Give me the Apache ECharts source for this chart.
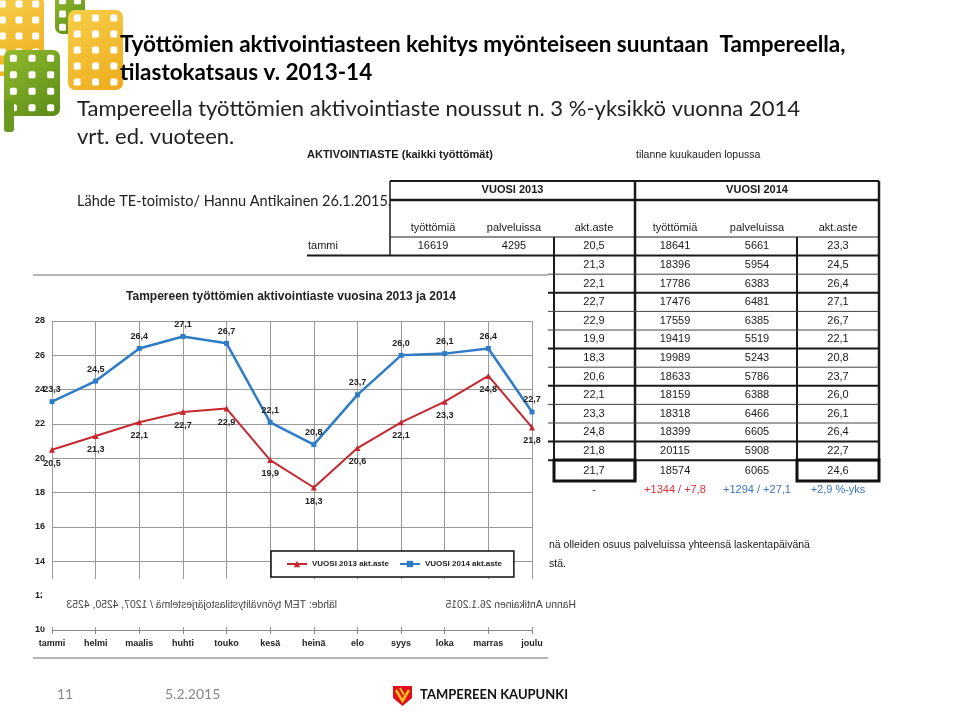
<!DOCTYPE html>
<html>
<head>
<meta charset="utf-8">
<script src="https://cdn.jsdelivr.net/npm/echarts@6/dist/echarts.min.js"></script>
<style>html,body{margin:0;padding:0;background:#fff}#c{width:960px;height:712px}</style>
</head>
<body>
<div id="c"></div>
<script>
// ---------- data ----------
const months = ['tammi','helmi','maalis','huhti','touko','kesä','heinä','elo','syys','loka','marras','joulu'];
const rate2013 = [20.5, 21.3, 22.1, 22.7, 22.9, 19.9, 18.3, 20.6, 22.1, 23.3, 24.8, 21.8];
const rate2014 = [23.3, 24.5, 26.4, 27.1, 26.7, 22.1, 20.8, 23.7, 26.0, 26.1, 26.4, 22.7];
const jobless2014 = [18641, 18396, 17786, 17476, 17559, 19419, 19989, 18633, 18159, 18318, 18399, 20115];
const services2014 = [5661, 5954, 6383, 6481, 6385, 5519, 5243, 5786, 6388, 6466, 6605, 5908];
const janJobless2013 = 16619;
const janServices2013 = 4295;
const avgRate2013 = 21.7;
const avgRow2014 = [18574, 6065, 24.6];
const diffRow = ['-', '+1344 / +7,8', '+1294 / +27,1', '+2,9 %-yks'];
const yearHeads = ['VUOSI 2013', 'VUOSI 2014'];
const colHeads = ['työttömiä', 'palveluissa', 'akt.aste'];
const seriesNames = ['VUOSI 2013 akt.aste', 'VUOSI 2014 akt.aste'];
const yTicks = {min: 10, max: 28, interval: 2};

const titleLine1 = 'Työttömien aktivointiasteen kehitys myönteiseen suuntaan  Tampereella,';
const titleLine2 = 'tilastokatsaus v. 2013-14';
const subLine1 = 'Tampereella työttömien aktivointiaste noussut n. 3 %-yksikkö vuonna 2014';
const subLine2 = 'vrt. ed. vuoteen.';
const sourceLine = 'Lähde TE-toimisto/ Hannu Antikainen 26.1.2015.';
const tableTitle = 'AKTIVOINTIASTE (kaikki työttömät)';
const tableNote = 'tilanne kuukauden lopussa';
const footA = 'nä olleiden osuus palveluissa yhteensä laskentapäivänä';
const footB = 'stä.';
const mirrorA = 'lähde: TEM työnvälitystilastojärjestelmä / 1207, 4250, 4253';
const mirrorB = 'Hannu Antikainen 26.1.2015';
const chartTitle = 'Tampereen työttömien aktivointiaste vuosina 2013 ja 2014';
const pageNo = '11';
const dateText = '5.2.2015';
const cityText = 'TAMPEREEN KAUPUNKI';

// ---------- styling helpers ----------
const SANS = 'Lato, "Open Sans", sans-serif';
const NARROW = '"Liberation Sans Narrow", "Arial Narrow", "Liberation Sans", sans-serif';
const fmt = v => v.toFixed(1).replace('.', ',');

const G = [];
function txt(text, x, y, o) {
  o = o || {};
  G.push({
    type: 'text', x: x, y: y, z: o.z != null ? o.z : 1, scaleX: o.scaleX || 1,
    style: {
      text: text, fontSize: o.size || 11, fontWeight: o.weight || 'normal',
      fontFamily: o.family || NARROW, fill: o.color || '#1a1a1a',
      align: o.align || 'left', verticalAlign: 'middle'
    }
  });
}
function line(x1, y1, x2, y2, w, color, z) {
  G.push({type: 'line', z: z != null ? z : 1, shape: {x1: x1, y1: y1, x2: x2, y2: y2},
    style: {stroke: color || '#1a1a1a', lineWidth: w || 1}});
}
function rect(x, y, w, h, o) {
  o = o || {};
  G.push({type: 'rect', z: o.z != null ? o.z : 1, shape: {x: x, y: y, width: w, height: h, r: o.r || 0},
    style: {fill: o.fill || 'none', stroke: o.stroke || null, lineWidth: o.lw || 1}});
}

// ---------- slide texts ----------
txt(titleLine1, 120, 45, {size: 22.5, weight: 'bold', family: SANS, color: '#000', z: 5});
txt(titleLine2, 120, 73, {size: 22.5, weight: 'bold', family: SANS, color: '#000', z: 5});
txt(subLine1, 77, 109, {size: 22, family: SANS, color: '#222', z: 5});
txt(subLine2, 77, 137, {size: 22, family: SANS, color: '#222', z: 5});
txt(sourceLine, 77, 201, {size: 14.5, family: SANS, color: '#222', z: 5});
txt(pageNo, 57, 694, {size: 14, family: SANS, color: '#888', z: 5});
txt(dateText, 165, 694, {size: 14, family: SANS, color: '#888', z: 5});
txt(cityText, 420, 695, {size: 13, weight: 'bold', family: SANS, color: '#111', z: 5});

// ---------- table (behind chart panel) ----------
const tblL = 390, tblM = 635, tblR = 879, lblX = 307;
const colX = [433, 514, 594, 675, 757, 838];
const rowTop0 = 237, rowH = 18.6;
const rowC = i => rowTop0 + rowH * i + rowH / 2;

txt(tableTitle, 307, 155, {size: 11, weight: 'bold'});
txt(tableNote, 636, 155, {size: 10.5});
line(tblL, 181, tblR, 181, 2);
line(tblL, 200, tblR, 200, 2.5);
line(tblL, 181, tblL, rowTop0 + rowH, 1.5);
line(tblM, 181, tblM, 481, 2.5);
line(tblR, 181, tblR, 460, 2.5);
txt(yearHeads[0], (tblL + tblM) / 2, 190, {size: 11, weight: 'bold', align: 'center'});
txt(yearHeads[1], (tblM + tblR) / 2, 190, {size: 11, weight: 'bold', align: 'center'});
colHeads.concat(colHeads).forEach((h, k) => txt(h, colX[k], 228, {size: 11, align: 'center'}));
line(tblL, rowTop0, tblR, rowTop0, 1);
line(554, rowTop0, 554, 460, 2);
line(797, rowTop0, 797, 460, 2);
const thickRows = [1, 3, 6, 8, 11, 12];
for (let i = 1; i <= 12; i++) {
  const y = rowTop0 + rowH * i;
  if (thickRows.indexOf(i) >= 0) line(lblX, y, tblR, y, 2);
  else line(tblL, y, tblR, y, 1, '#444');
}
txt(months[0], 308, rowC(0), {size: 11});
txt(String(janJobless2013), colX[0], rowC(0), {size: 11, align: 'center'});
txt(String(janServices2013), colX[1], rowC(0), {size: 11, align: 'center'});
months.forEach((m, i) => {
  txt(fmt(rate2013[i]), colX[2], rowC(i), {size: 11, align: 'center'});
  txt(String(jobless2014[i]), colX[3], rowC(i), {size: 11, align: 'center'});
  txt(String(services2014[i]), colX[4], rowC(i), {size: 11, align: 'center'});
  txt(fmt(rate2014[i]), colX[5], rowC(i), {size: 11, align: 'center'});
});
const avgY = 470.5;
rect(554, 460, 81, 21, {stroke: '#111', lw: 3});
rect(797, 460, 82, 21, {stroke: '#111', lw: 3});
txt(fmt(avgRate2013), colX[2], avgY, {size: 11, align: 'center'});
txt(String(avgRow2014[0]), colX[3], avgY, {size: 11, align: 'center'});
txt(String(avgRow2014[1]), colX[4], avgY, {size: 11, align: 'center'});
txt(fmt(avgRow2014[2]), colX[5], avgY, {size: 11, align: 'center'});
const diffColors = ['#333', '#e0303a', '#3b73c4', '#3b73c4'];
diffRow.forEach((d, k) => txt(d, colX[k + 2], 490, {size: 11, align: 'center', color: diffColors[k]}));
txt(footA, 549, 545, {size: 10.5});
txt(footB, 549, 564, {size: 10.5});

// ---------- chart panel ----------
rect(33, 258, 515, 404, {fill: '#fff', z: 2});
line(33, 275, 548, 275, 2, '#b5b5b5', 2);
line(33, 658, 548, 658, 2, '#b5b5b5', 2);
txt(chartTitle, 291, 297, {size: 12, weight: 'bold', align: 'center', z: 3, color: '#222'});
// white band with mirrored source texts over the chart
rect(42, 579, 506, 48, {fill: '#fff', z: 20});
txt(mirrorA, 337, 605, {size: 11.5, color: '#444', z: 21, scaleX: -0.9});
txt(mirrorB, 576, 605, {size: 11.5, color: '#444', z: 21, scaleX: -0.9});

// ---------- logos ----------
const yel = {type: 'linear', x: 0, y: 0, x2: 1, y2: 1, colorStops: [{offset: 0, color: '#f7cf4a'}, {offset: 1, color: '#eeab1c'}]};
const grn = {type: 'linear', x: 0, y: 0, x2: 1, y2: 1, colorStops: [{offset: 0, color: '#93bb2d'}, {offset: 1, color: '#5a8a18'}]};
function block(x, y, w, h, fill, cols, rows, z) {
  G.push({type: 'rect', z: z, shape: {x: x, y: y, width: w, height: h, r: 7}, style: {fill: fill}});
  const cw = w / cols;
  const rh = h / rows;
  for (let c = 0; c < cols; c++) for (let r = 0; r < rows; r++) {
    G.push({type: 'rect', z: z, shape: {x: x + c * cw + cw / 2 - 3.5, y: y + r * rh + rh / 2 - 3.5, width: 7, height: 7, r: 1.5}, style: {fill: '#fff'}});
  }
}
block(-6, -4, 50, 80, yel, 3, 5, 3);
block(55, -6, 30, 40, grn, 2, 3, 3);
block(68, 10, 55, 80, yel, 3, 5, 3);
block(4, 50, 56, 66, grn, 3, 4, 4);
G.push({type: 'rect', z: 4, shape: {x: 4, y: 100, width: 10, height: 32, r: 3}, style: {fill: '#6a9a1f'}});

G.push({type: 'polygon', z: 5, shape: {points: [[393, 686], [412, 686], [412, 698], [402.5, 706], [393, 698]]}, style: {fill: '#e30d1c'}});
G.push({type: 'polyline', z: 6, shape: {points: [[396, 690], [402.5, 701], [409, 690]]}, style: {stroke: '#f8c21a', lineWidth: 2.5, fill: 'none'}});
G.push({type: 'line', z: 6, shape: {x1: 400, y1: 688, x2: 404, y2: 695}, style: {stroke: '#f8c21a', lineWidth: 2}});

// ---------- chart ----------
const chart = echarts.init(document.getElementById('c'), null, {renderer: 'canvas'});
const labelStyle = {show: true, fontSize: 9, fontWeight: 'bold', fontFamily: NARROW, color: '#222', formatter: p => fmt(p.value)};
chart.setOption({
  animation: false,
  backgroundColor: '#fff',
  graphic: {elements: G},
  grid: {left: 52, right: 428, top: 321, bottom: 82, containLabel: false, outerBoundsMode: 'none'},
  xAxis: {
    type: 'category', data: months, boundaryGap: false, z: 3,
    axisLine: {lineStyle: {color: '#888', width: 1}},
    axisTick: {show: true, length: 4, lineStyle: {color: '#888'}},
    axisLabel: {fontSize: 9, fontWeight: 'bold', fontFamily: NARROW, color: '#222', margin: 9},
    splitLine: {show: true, lineStyle: {color: '#9a9a9a', width: 1}}
  },
  yAxis: {
    type: 'value', min: yTicks.min, max: yTicks.max, interval: yTicks.interval, z: 3,
    axisLine: {show: false}, axisTick: {show: false},
    axisLabel: {fontSize: 9, fontWeight: 'bold', fontFamily: NARROW, color: '#222', margin: 7},
    splitLine: {show: true, lineStyle: {color: '#9a9a9a', width: 1}}
  },
  legend: {
    left: 271, top: 551, z: 8, padding: [9, 12, 9, 15], itemGap: 10, itemWidth: 20, itemHeight: 8,
    backgroundColor: '#fff', borderColor: '#111', borderWidth: 1.5,
    textStyle: {fontSize: 8, fontWeight: 'bold', fontFamily: NARROW, color: '#222'},
    data: seriesNames
  },
  series: [
    {
      name: seriesNames[0], type: 'line', data: rate2013, z: 5,
      symbol: 'triangle', symbolSize: 6, color: '#c5282e',
      lineStyle: {width: 2, color: '#c5282e'},
      label: Object.assign({position: 'bottom', distance: 6}, labelStyle)
    },
    {
      name: seriesNames[1], type: 'line', data: rate2014, z: 6,
      symbol: 'rect', symbolSize: 5, color: '#2f7cc6',
      lineStyle: {width: 2.5, color: '#2f7cc6'},
      label: Object.assign({position: 'top', distance: 5}, labelStyle)
    }
  ]
});
</script>
</body>
</html>
